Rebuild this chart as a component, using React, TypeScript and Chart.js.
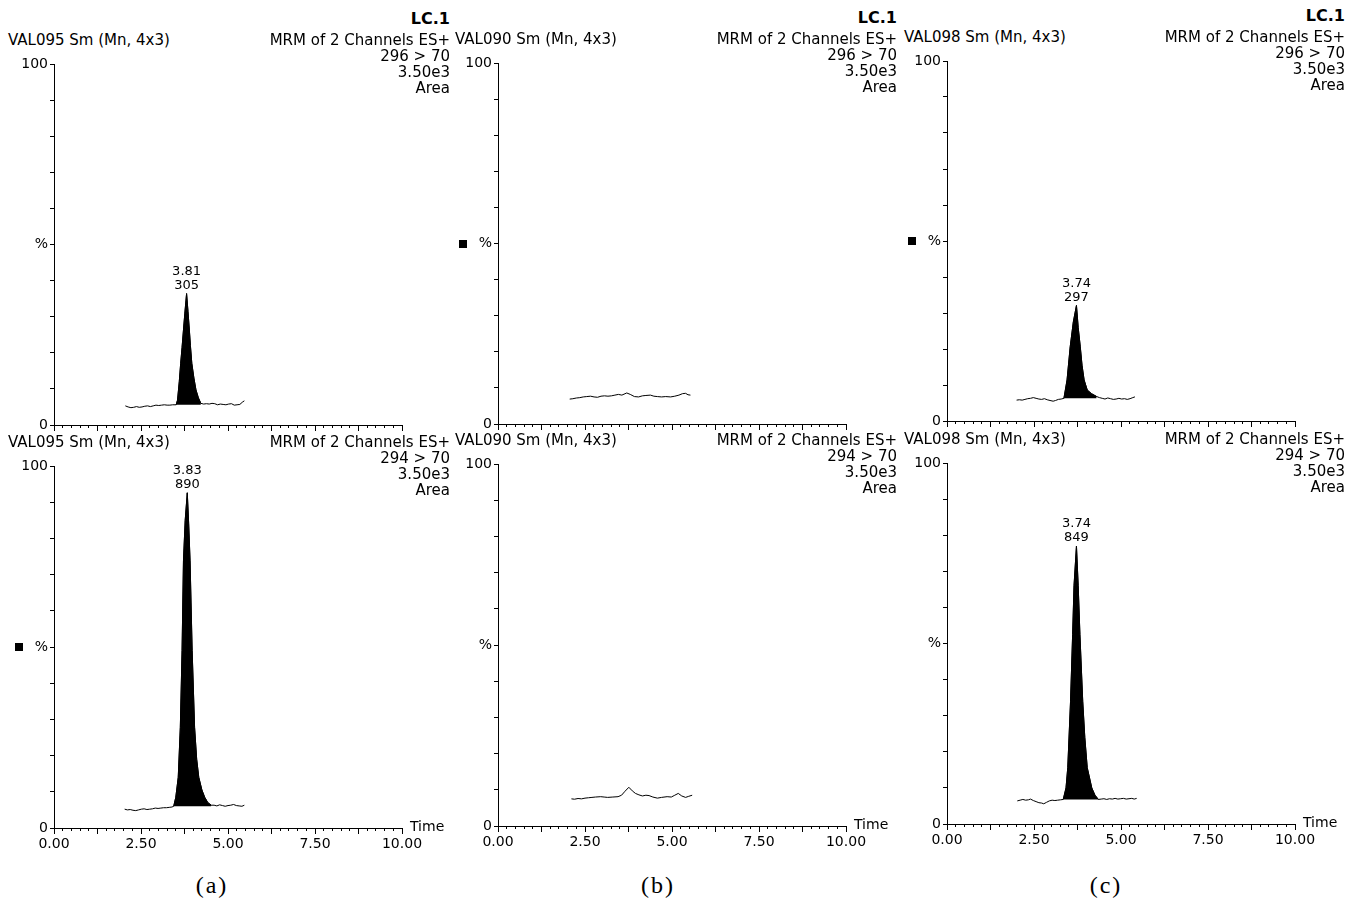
import React, { useEffect, useRef } from 'react';
import { Chart, registerables } from 'chart.js';

Chart.register(...registerables);

// ---------------- data ----------------
const timeTickLabels = ['0.00', '2.50', '5.00', '7.50', '10.00'];
const percentTickLabels: [number, string][] = [[0, '0'], [50, '%'], [100, '100']];

const sampleNames = ['VAL095 Sm (Mn, 4x3)', 'VAL090 Sm (Mn, 4x3)', 'VAL098 Sm (Mn, 4x3)'];
const channelTitle = 'MRM of 2 Channels ES+';
const transitions = ['296 > 70', '294 > 70'];
const intensityLabel = '3.50e3';
const modeLabel = 'Area';
const groupLabel = 'LC.1';
const axisTitle = 'Time';
const panelLetters = ['(a)', '(b)', '(c)'];

// (a) 296 > 70
const aTopTime = [2.05, 2.13, 2.21, 2.29, 2.37, 2.45, 2.53, 2.61, 2.69, 2.77, 2.85, 2.93, 3.01, 3.09, 3.17, 3.25, 3.33, 3.41, 3.51, 3.55, 3.60, 3.64, 3.68, 3.72, 3.76, 3.81, 3.85, 3.89, 3.92, 3.96, 4.02, 4.08, 4.15, 4.22, 4.30, 4.38, 4.46, 4.54, 4.62, 4.70, 4.78, 4.86, 4.94, 5.02, 5.10, 5.18, 5.26, 5.34, 5.41, 5.47];
const aTopSignal = [5.3, 5.0, 4.8, 4.9, 5.1, 4.9, 5.0, 5.2, 5.3, 5.1, 5.3, 5.5, 5.4, 5.5, 5.6, 5.5, 5.5, 5.6, 5.6, 6.9, 12, 17.1, 21.5, 26.3, 31, 36.4, 31.5, 26.3, 22, 17.1, 13, 9.7, 7.5, 6.0, 5.8, 5.9, 5.8, 6.0, 5.9, 5.6, 5.8, 5.7, 5.6, 5.8, 5.9, 5.5, 5.6, 5.7, 6.3, 6.7];
// (a) 294 > 70
const aBotTime = [2.03, 2.11, 2.19, 2.27, 2.35, 2.43, 2.51, 2.59, 2.67, 2.75, 2.83, 2.91, 2.99, 3.07, 3.15, 3.23, 3.31, 3.39, 3.44, 3.50, 3.57, 3.63, 3.68, 3.72, 3.77, 3.83, 3.87, 3.91, 3.97, 4.04, 4.10, 4.16, 4.25, 4.33, 4.42, 4.52, 4.60, 4.68, 4.76, 4.84, 4.92, 5.00, 5.08, 5.16, 5.24, 5.32, 5.40, 5.47];
const aBotSignal = [5.2, 5.0, 5.1, 4.9, 4.8, 5.0, 5.2, 5.3, 5.1, 5.2, 5.3, 5.5, 5.4, 5.5, 5.6, 5.6, 5.7, 5.8, 6.0, 8.5, 14, 27.8, 49, 73.8, 85, 92.6, 84, 73.8, 49, 27.8, 19, 14, 10.5, 8.5, 7.0, 6.3, 6.3, 6.1, 6.4, 6.2, 6.0, 6.2, 6.3, 6.5, 6.2, 6.1, 6.0, 6.3];
// (b) 296 > 70
const bTopTime = [2.06, 2.15, 2.25, 2.35, 2.45, 2.55, 2.66, 2.76, 2.86, 2.96, 3.06, 3.16, 3.26, 3.36, 3.46, 3.56, 3.70, 3.80, 3.92, 4.04, 4.15, 4.25, 4.38, 4.48, 4.58, 4.70, 4.82, 4.96, 5.08, 5.20, 5.30, 5.39, 5.46, 5.53];
const bTopSignal = [6.9, 7.0, 7.2, 7.3, 7.5, 7.6, 7.7, 7.5, 7.4, 7.7, 7.8, 7.7, 7.8, 8.0, 8.2, 8.0, 8.6, 8.2, 7.6, 7.5, 7.8, 7.9, 8.0, 7.7, 7.6, 7.5, 7.6, 7.5, 7.7, 8.0, 8.4, 8.5, 8.1, 8.0];
// (b) 294 > 70
const bBotTime = [2.11, 2.20, 2.30, 2.40, 2.50, 2.60, 2.70, 2.80, 2.95, 3.05, 3.15, 3.30, 3.45, 3.55, 3.65, 3.76, 3.86, 3.95, 4.05, 4.15, 4.25, 4.34, 4.45, 4.58, 4.70, 4.86, 4.98, 5.08, 5.18, 5.28, 5.39, 5.48, 5.58];
const bBotSignal = [7.5, 7.4, 7.6, 7.5, 7.7, 7.8, 7.9, 8.0, 8.1, 8.0, 7.9, 8.0, 8.1, 8.5, 9.6, 10.7, 9.7, 9.0, 8.6, 8.3, 8.5, 8.4, 8.0, 7.7, 7.9, 8.1, 8.0, 8.5, 9.0, 8.3, 7.9, 8.2, 8.5];
// (c) 296 > 70
const cTopTime = [2.00, 2.08, 2.16, 2.24, 2.32, 2.40, 2.48, 2.56, 2.64, 2.72, 2.80, 2.88, 2.96, 3.05, 3.12, 3.20, 3.28, 3.36, 3.45, 3.54, 3.63, 3.72, 3.77, 3.83, 3.88, 3.94, 4.03, 4.15, 4.30, 4.38, 4.46, 4.54, 4.62, 4.70, 4.78, 4.86, 4.94, 5.02, 5.10, 5.18, 5.26, 5.34, 5.40];
const cTopSignal = [5.8, 5.9, 5.8, 6.0, 6.2, 6.3, 6.5, 6.3, 6.1, 6.0, 6.2, 5.9, 5.7, 5.5, 5.7, 6.0, 6.1, 6.3, 11.4, 20.6, 27.5, 32.1, 26, 20.6, 15.5, 11.4, 8.6, 7.6, 6.8, 6.5, 6.3, 6.1, 6.4, 6.2, 6.0, 6.1, 6.3, 6.1, 6.2, 6.0, 6.2, 6.5, 6.7];
// (c) 294 > 70
const cBotTime = [2.02, 2.10, 2.18, 2.26, 2.34, 2.40, 2.48, 2.56, 2.64, 2.72, 2.78, 2.86, 2.94, 3.02, 3.10, 3.18, 3.26, 3.34, 3.42, 3.47, 3.55, 3.61, 3.65, 3.72, 3.77, 3.82, 3.90, 3.96, 4.03, 4.16, 4.25, 4.35, 4.43, 4.51, 4.59, 4.67, 4.75, 4.83, 4.91, 4.99, 5.07, 5.15, 5.23, 5.31, 5.38, 5.45];
const cBotSignal = [6.4, 6.6, 6.8, 6.6, 6.7, 6.9, 6.5, 6.2, 5.9, 5.8, 5.6, 6.0, 6.4, 6.6, 6.5, 6.6, 6.7, 6.8, 10, 15.6, 34, 52.5, 66, 77, 66, 52.5, 34, 24, 15.6, 10, 8, 6.8, 6.9, 7.0, 6.8, 7.0, 6.9, 7.1, 6.9, 7.0, 7.1, 6.9, 7.0, 7.1, 6.9, 7.1];

// integrated peaks: [start, end, baseline]
const aTopPeak = [3.51, 4.22, 5.6];
const aBotPeak = [3.44, 4.52, 6.0];
const cTopPeak = [3.36, 4.30, 6.3];
const cBotPeak = [3.34, 4.35, 6.8];
const peakRetention = ['3.81', '3.83', '3.74', '3.74'];
const peakAreas = ['305', '890', '297', '849'];

// ---------------- layout ----------------
const W = 1348;
const PAD_L = 44, PAD_T = 14, PAD_R = 25, PAD_B = 34;
const cols = [
  { axisX: 54, axisR: 402, textL: 8, textR: 450, top: [64, 425], bot: [466, 828], letterX: 212 },
  { axisX: 498, axisR: 846, textL: 455, textR: 897, top: [63, 424], bot: [464, 826], letterX: 658 },
  { axisX: 947, axisR: 1295, textL: 904, textR: 1345, top: [61, 421], bot: [463, 824], letterX: 1106 },
];

type PanelCfg = {
  col: number; row: number; time: number[]; signal: number[];
  peak?: number[]; label?: [string, string]; marker?: boolean;
};

const panels: PanelCfg[] = [
  { col: 0, row: 0, time: aTopTime, signal: aTopSignal, peak: aTopPeak, label: [peakRetention[0], peakAreas[0]] },
  { col: 0, row: 1, time: aBotTime, signal: aBotSignal, peak: aBotPeak, label: [peakRetention[1], peakAreas[1]], marker: true },
  { col: 1, row: 0, time: bTopTime, signal: bTopSignal, marker: true },
  { col: 1, row: 1, time: bBotTime, signal: bBotSignal },
  { col: 2, row: 0, time: cTopTime, signal: cTopSignal, peak: cTopPeak, label: [peakRetention[2], peakAreas[2]], marker: true },
  { col: 2, row: 1, time: cBotTime, signal: cBotSignal, peak: cBotPeak, label: [peakRetention[3], peakAreas[3]] },
];

const FONT = '"DejaVu Sans", sans-serif';
Chart.defaults.font.family = FONT;
Chart.defaults.color = '#000';

const peakLabelPlugin = {
  id: 'peakLabel',
  afterDatasetsDraw(chart: any, _args: any, opts: any) {
    if (!opts || !opts.lines) return;
    const px = chart.scales.x.getPixelForValue(opts.x);
    const py = chart.scales.y.getPixelForValue(opts.y);
    const ctx = chart.ctx;
    ctx.save();
    ctx.font = '13px ' + FONT;
    ctx.fillStyle = '#000';
    ctx.textAlign = 'center';
    ctx.textBaseline = 'middle';
    ctx.fillText(opts.lines[0], px, py - 22);
    ctx.fillText(opts.lines[1], px, py - 8);
    ctx.restore();
  },
};

function zeroPad(s: any) {
  s.paddingLeft = 0; s.paddingRight = 0; s.paddingTop = 0; s.paddingBottom = 0;
}

function Panel({ cfg }: { cfg: PanelCfg }) {
  const ref = useRef<HTMLCanvasElement>(null);
  const c = cols[cfg.col];
  const [yTop, yBot] = cfg.row === 0 ? c.top : c.bot;
  const width = PAD_L + (c.axisR - c.axisX) + PAD_R;
  const height = PAD_T + (yBot - yTop) + PAD_B;
  const left = c.axisX - PAD_L;
  const top = yTop - PAD_T;

  useEffect(() => {
    const pts = cfg.time.map((t, i) => ({ x: t, y: cfg.signal[i] }));
    const datasets: any[] = [
      { data: pts, borderColor: '#000', borderWidth: 1, pointRadius: 0, fill: false, tension: 0 },
    ];
    let labelOpts: any = false;
    if (cfg.peak) {
      const [s, e, base] = cfg.peak;
      const peakPts = pts.filter((p) => p.x >= s - 1e-9 && p.x <= e + 1e-9);
      datasets.push({
        data: peakPts, borderColor: '#000', borderWidth: 1, pointRadius: 0, tension: 0,
        backgroundColor: '#000', fill: { value: base },
      });
      let mi = 0;
      cfg.signal.forEach((v, i) => { if (v > cfg.signal[mi]) mi = i; });
      labelOpts = { x: cfg.time[mi], y: cfg.signal[mi], lines: cfg.label };
    }
    const showX = cfg.row === 1;
    const chart = new Chart(ref.current as HTMLCanvasElement, {
      type: 'line',
      data: { datasets },
      plugins: [peakLabelPlugin],
      options: {
        responsive: false,
        animation: false,
        events: [],
        layout: { padding: { left: 0, top: PAD_T, right: PAD_R, bottom: 0 } },
        plugins: { legend: { display: false }, tooltip: { enabled: false }, peakLabel: labelOpts } as any,
        scales: {
          x: {
            type: 'linear', min: 0, max: 10, weight: 1,
            border: { display: true, color: '#000', width: 1 },
            grid: { drawOnChartArea: false, drawTicks: true, tickLength: 3, tickColor: '#000', tickWidth: 1 },
            ticks: {
              display: showX, stepSize: 0.25, autoSkip: false, maxRotation: 0, minRotation: 0,
              maxTicksLimit: 100, padding: 5, font: { size: 14, family: FONT }, color: '#000',
              callback: (v: any) => {
                const f = timeTickLabels.find((s) => Math.abs(parseFloat(s) - Number(v)) < 1e-6);
                return f ?? '';
              },
            },
            afterFit: (s: any) => { s.height = PAD_B; zeroPad(s); },
          },
          x2: {
            type: 'linear', min: 0, max: 10, position: 'bottom', weight: 0,
            border: { display: false },
            grid: { drawOnChartArea: false, drawTicks: true, tickLength: 6, tickColor: '#000', tickWidth: 1 },
            ticks: { display: false, stepSize: 1.25, autoSkip: false, maxTicksLimit: 100 },
            afterFit: (s: any) => { s.height = 0; zeroPad(s); },
          },
          y: {
            type: 'linear', min: 0, max: 100,
            border: { display: true, color: '#000', width: 1 },
            grid: { drawOnChartArea: false, drawTicks: true, tickLength: 4, tickColor: '#000', tickWidth: 1 },
            ticks: {
              stepSize: 10, autoSkip: false, padding: 2, font: { size: 14, family: FONT }, color: '#000',
              callback: (v: any) => {
                const f = percentTickLabels.find((p) => Math.abs(p[0] - Number(v)) < 1e-6);
                return f ? f[1] : '';
              },
            },
            afterFit: (s: any) => { s.width = PAD_L; zeroPad(s); },
          },
        } as any,
      },
    });
    return () => chart.destroy();
  }, []);

  return (
    <canvas
      ref={ref}
      width={width}
      height={height}
      style={{ position: 'absolute', left, top, width, height, display: 'block' }}
    />
  );
}

function Txt({ x, y, align, size = 15, bold = false, family = FONT, children }: any) {
  const style: any = {
    position: 'absolute', top: y - 10, height: 20, lineHeight: '20px', fontSize: size,
    fontFamily: family, fontWeight: bold ? 'bold' : 'normal', whiteSpace: 'nowrap', color: '#000',
  };
  if (align === 'right') style.right = W - x;
  else if (align === 'center') { style.left = x; style.transform = 'translateX(-50%)'; }
  else style.left = x;
  return <div style={style}>{children}</div>;
}

export default function App() {
  const texts: any[] = [];
  cols.forEach((c, ci) => {
    [0, 1].forEach((row) => {
      const yTop = row === 0 ? c.top[0] : c.bot[0];
      const k = `${ci}-${row}`;
      if (row === 0) texts.push(<Txt key={k + 'lc'} x={c.textR} y={yTop - 45} align="right" size={16} bold>{groupLabel}</Txt>);
      texts.push(<Txt key={k + 'sn'} x={c.textL} y={yTop - 24} align="left">{sampleNames[ci]}</Txt>);
      texts.push(<Txt key={k + 'ch'} x={c.textR} y={yTop - 24} align="right">{channelTitle}</Txt>);
      texts.push(<Txt key={k + 'tr'} x={c.textR} y={yTop - 8} align="right">{transitions[row]}</Txt>);
      texts.push(<Txt key={k + 'in'} x={c.textR} y={yTop + 8} align="right">{intensityLabel}</Txt>);
      texts.push(<Txt key={k + 'md'} x={c.textR} y={yTop + 24} align="right">{modeLabel}</Txt>);
    });
    texts.push(<Txt key={ci + 'time'} x={c.axisR + 8} y={c.bot[1] - 2} align="left" size={14}>{axisTitle}</Txt>);
    texts.push(
      <Txt key={ci + 'let'} x={c.letterX} y={885} align="center" size={24} family='"Liberation Serif", serif'>
        <span style={{ letterSpacing: 2 }}>{panelLetters[ci]}</span>
      </Txt>
    );
  });

  const markers = panels.filter((p) => p.marker).map((p, i) => {
    const c = cols[p.col];
    const [a, b] = p.row === 0 ? c.top : c.bot;
    const cy = (a + b) / 2;
    return (
      <div key={'m' + i} style={{ position: 'absolute', left: c.axisX - 39, top: cy - 4, width: 8, height: 8, background: '#000' }} />
    );
  });

  return (
    <div style={{ position: 'absolute', left: 0, top: 0, width: W, height: 905, background: '#fff', overflow: 'hidden' }}>
      {panels.map((p, i) => <Panel key={i} cfg={p} />)}
      {texts}
      {markers}
    </div>
  );
}
